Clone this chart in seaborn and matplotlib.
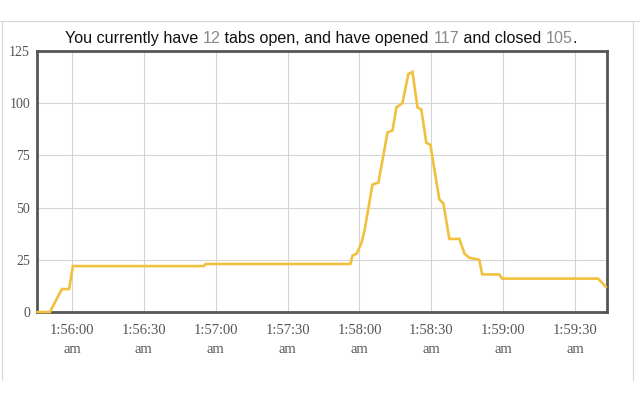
import matplotlib
matplotlib.use("Agg")
import matplotlib.pyplot as plt
from matplotlib.lines import Line2D
import pandas as pd
import seaborn as sns

# ---- data ----
times = ["01:55:45.4", "01:55:50.8", "01:55:55.8", "01:55:58.8", "01:56:00.4",
         "01:56:55.0", "01:56:55.8", "01:57:56.2", "01:57:57.1", "01:57:58.8",
         "01:58:00.8", "01:58:02.1", "01:58:05.4", "01:58:07.9", "01:58:11.7",
         "01:58:13.8", "01:58:15.4", "01:58:17.9", "01:58:20.4", "01:58:22.1",
         "01:58:24.2", "01:58:25.8", "01:58:27.9", "01:58:29.6", "01:58:33.3",
         "01:58:35.0", "01:58:37.5", "01:58:41.7", "01:58:43.8", "01:58:45.8",
         "01:58:50.0", "01:58:51.2", "01:58:58.3", "01:58:59.6", "01:59:39.6",
         "01:59:42.9"]
open_tabs = [0, 0, 11, 11, 22,
             22, 23, 23, 27, 28,
             33, 39, 61, 62, 86,
             87, 98, 100, 114, 115,
             98, 97, 81, 80, 54,
             52, 35, 35, 28, 26,
             25, 18, 18, 16, 16,
             12]
tick_times = ["01:56:00", "01:56:30", "01:57:00", "01:57:30",
              "01:58:00", "01:58:30", "01:59:00", "01:59:30"]
tick_labels = ["1:56:00\nam", "1:56:30\nam", "1:57:00\nam", "1:57:30\nam",
               "1:58:00\nam", "1:58:30\nam", "1:59:00\nam", "1:59:30\nam"]
y_ticks = [0, 25, 50, 75, 100, 125]
x_range = ["01:55:45.4", "01:59:43.3"]
tabs_now = 12
tabs_opened = 117
tabs_closed = 105

day = "2013-01-01 "
df = pd.DataFrame({"time": pd.to_datetime([day + t for t in times]),
                   "tabs": open_tabs})

sns.set_theme(style="whitegrid")
plt.rcParams["font.family"] = ["Liberation Sans", "DejaVu Sans"]

fig = plt.figure(figsize=(6.4, 4.0), dpi=100)
fig.patch.set_facecolor("white")
ax = fig.add_axes([37 / 640, 1 - 312 / 400, 570 / 640, 261 / 400])
ax.set_facecolor("white")

sns.lineplot(data=df, x="time", y="tabs", ax=ax, color="#efc13f",
             linewidth=1.9, solid_joinstyle="miter")
for ln in ax.lines:
    ln.set_zorder(4)
    ln.set_clip_on(False)

ax.set_xlim(pd.to_datetime([day + t for t in x_range]))
ax.set_ylim(0, 125)
ax.set_xticks(pd.to_datetime([day + t for t in tick_times]))
ax.set_xticklabels(tick_labels, family="Liberation Serif", fontsize=10.5,
                   color="#555555", linespacing=1.55)
ax.set_yticks(y_ticks)
ax.set_yticklabels([str(v) for v in y_ticks], family="Liberation Serif",
                   fontsize=10, color="#555555")
ax.tick_params(axis="x", length=0, pad=9)
ax.tick_params(axis="y", length=0, pad=5)
ax.set_xlabel("")
ax.set_ylabel("")
ax.grid(True, color="#d4d4d4", linewidth=0.8)
for s in ax.spines.values():
    s.set_visible(True)
    s.set_color("#555555")
    s.set_linewidth(2.0)
    s.set_zorder(3)

# faint outer page border (screenshot frame)
for xs, ys in [([0, 1], [1 - 21 / 400] * 2),
               ([2 / 640] * 2, [1 - 21 / 400, 1 - 380 / 400]),
               ([633 / 640] * 2, [1 - 21 / 400, 1 - 380 / 400])]:
    fig.add_artist(Line2D(xs, ys, transform=fig.transFigure,
                          color="#d8d8d8", linewidth=0.8))

# multi-coloured title
segments = [("You currently have ", "#111111"), (str(tabs_now), "#8a8a8a"),
            (" tabs open, and have opened ", "#111111"), (str(tabs_opened), "#8a8a8a"),
            (" and closed ", "#111111"), (str(tabs_closed), "#8a8a8a"),
            (".", "#111111")]
renderer = fig.canvas.get_renderer()
texts = []
widths = []
for s, c in segments:
    t = fig.text(0, 0, s, color=c, fontsize=11.6, family="Liberation Sans",
                 va="baseline", ha="left")
    bb = t.get_window_extent(renderer=renderer)
    texts.append(t)
    widths.append(bb.width)
total = sum(widths)
x0 = 321 - total / 2
for t, w in zip(texts, widths):
    t.set_position((x0 / 640, 1 - 43 / 400))
    x0 += w

fig.savefig("out.png", dpi=100, facecolor="white")
